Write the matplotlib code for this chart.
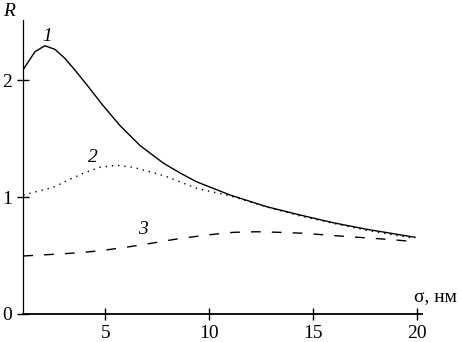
import matplotlib
matplotlib.use("Agg")
import matplotlib.pyplot as plt

plt.rcParams['font.family'] = ['Liberation Serif', 'DejaVu Serif']

# Curve 1 (solid)
s1 = [1.06, 1.30, 1.62, 2.10, 2.58, 3.06, 3.54, 4.11, 4.9, 5.71, 6.67, 7.79, 8.6, 9.39,
      11.0, 12.76, 14.37, 15.96, 17.57, 19.89]
r1 = [2.09, 2.156, 2.242, 2.293, 2.262, 2.185, 2.085, 1.96, 1.78, 1.61, 1.44, 1.29, 1.205, 1.13,
      1.017, 0.917, 0.846, 0.78, 0.724, 0.656]

# Curve 2 (dotted)
s2 = [1.06, 1.87, 2.5, 3.30, 3.94, 4.75, 5.55, 6.35, 7.31, 7.95, 9.39, 11.0,
      12.76, 14.37, 15.96, 17.57, 19.89]
r2 = [1.017, 1.054, 1.083, 1.151, 1.203, 1.254, 1.271, 1.254, 1.208, 1.174, 1.074, 1.01,
      0.915, 0.838, 0.775, 0.715, 0.645]

# Curve 3 (dashed)
s3 = [1.06, 2.5, 3.78, 4.75, 5.87, 6.99, 8.4, 9.87, 11.15, 12.28, 13.4, 14.52,
      15.64, 16.76, 17.88, 19.0, 19.89]
r3 = [0.496, 0.51, 0.524, 0.541, 0.567, 0.598, 0.64, 0.675, 0.698, 0.703, 0.698, 0.69,
      0.675, 0.66, 0.647, 0.632, 0.618]

xticks = [5, 10, 15, 20]
yticks = [0, 1, 2]

fig = plt.figure(figsize=(4.61, 3.42), dpi=100)
ax = fig.add_axes([23.3 / 461, 1 - 314 / 342, (421.7 - 23.3) / 461, (314 - 20) / 342])

ax.plot(s1, r1, color='black', lw=1.0, ls='-')
ax.plot(s2, r2, color='black', lw=1.0, ls=(0, (1, 3.5)))
ax.plot(s3, r3, color='black', lw=1.0, ls=(0, (7, 8)))

ax.set_xlim(1.06, 20.21)
ax.set_ylim(0, 2.513)
ax.spines['top'].set_visible(False)
ax.spines['right'].set_visible(False)
ax.spines['left'].set_linewidth(0.9)
ax.spines['bottom'].set_linewidth(1.3)

ax.set_xticks(xticks)
ax.set_xticklabels([str(t) for t in xticks])
ax.set_yticks(yticks)
ax.set_yticklabels([str(t) for t in yticks])
ax.tick_params(axis='both', direction='inout', length=8, width=1.0, labelsize=14)
ax.tick_params(axis='x', pad=4)
ax.tick_params(axis='y', pad=4)

fig.text(9 / 461, 1 - 12 / 342, 'R', fontsize=14, style='italic', ha='center', va='center')
ax.text(2.2, 2.37, '1', fontsize=14, style='italic', ha='center', va='center')
ax.text(4.41, 1.34, '2', fontsize=14, style='italic', ha='center', va='center')
ax.text(6.8, 0.72, '3', fontsize=14, style='italic', ha='center', va='center')
fig.text(457 / 461, 1 - 297 / 342, 'σ, нм', fontsize=14, ha='right', va='center')

fig.savefig('out.png', dpi=100)
